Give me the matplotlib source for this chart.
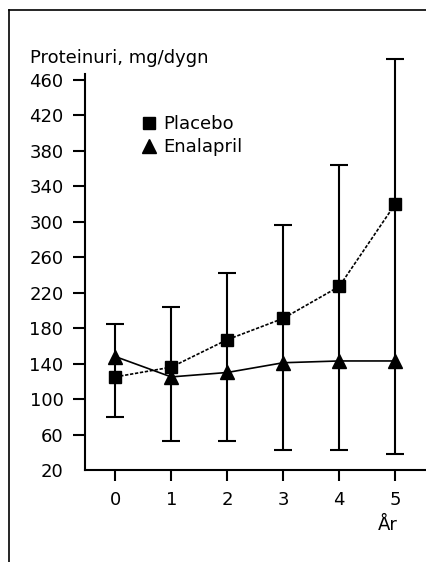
import matplotlib
matplotlib.use('Agg')
import matplotlib.pyplot as plt
from matplotlib.lines import Line2D

# values
years = [0, 1, 2, 3, 4, 5]
placebo = [125, 136, 167, 191, 227, 320]
placebo_upper = [185, 204, 242, 296, 364, 484]
enalapril = [148, 125, 130, 141, 143, 143]
enalapril_lower = [80, 53, 53, 42, 42, 38]
yticks = [20, 60, 100, 140, 180, 220, 260, 300, 340, 380, 420, 460]

plt.rcParams['font.family'] = 'DejaVu Sans'
plt.rcParams['font.size'] = 13

fig = plt.figure(figsize=(4.26, 5.62), dpi=100)
ax = fig.add_axes([85 / 426, 1 - 470 / 562, 1 - 85 / 426, (470 - 74) / 562])

# one vertical bar per year: placebo upper limit down to enalapril lower limit
ax.vlines(years, enalapril_lower, placebo_upper, color='black', lw=1.5, clip_on=False, zorder=2)
ax.plot(years, placebo_upper, ls='none', marker='_', ms=13, mew=1.5, color='black', clip_on=False)
ax.plot(years, enalapril_lower, ls='none', marker='_', ms=13, mew=1.5, color='black', clip_on=False)

ax.plot(years, placebo, color='black', lw=1.2, ls=(0, (2, 1)), marker='s', ms=9, zorder=3)
ax.plot(years, enalapril, color='black', lw=1.2, ls='-', marker='^', ms=10, zorder=3)

ax.set_xlim(-0.54, 5.55)
ax.set_ylim(20, 466.7)
ax.set_xticks(years)
ax.set_yticks(yticks)
for s in ['top', 'right']:
    ax.spines[s].set_visible(False)
for s in ['left', 'bottom']:
    ax.spines[s].set_linewidth(1.5)
ax.tick_params(axis='y', length=8.5, width=1.5, pad=7)
ax.tick_params(axis='x', length=8, width=1.5, pad=7)
ax.yaxis.get_major_ticks()[0].tick1line.set_visible(False)

handles = [Line2D([], [], color='black', marker='s', ls='none', ms=8),
           Line2D([], [], color='black', marker='^', ls='none', ms=10)]
fig.legend(handles, ['Placebo', 'Enalapril'], loc='upper left',
           bbox_to_anchor=(131 / 426, 1 - 106 / 562), frameon=False,
           handlelength=1, handletextpad=0.3, labelspacing=0.3, borderpad=0)

fig.text(30 / 426, 1 - 58 / 562, 'Proteinuri, mg/dygn', ha='left', va='center')
fig.text(388 / 426, 1 - 525 / 562, 'År', ha='center', va='center')

# outer frame
fig.add_artist(Line2D([9 / 426, 9 / 426], [0, 1 - 10 / 562], color='black', lw=1.2))
fig.add_artist(Line2D([9 / 426, 1], [1 - 10 / 562, 1 - 10 / 562], color='black', lw=1.2))

fig.savefig('out.png', dpi=100)
